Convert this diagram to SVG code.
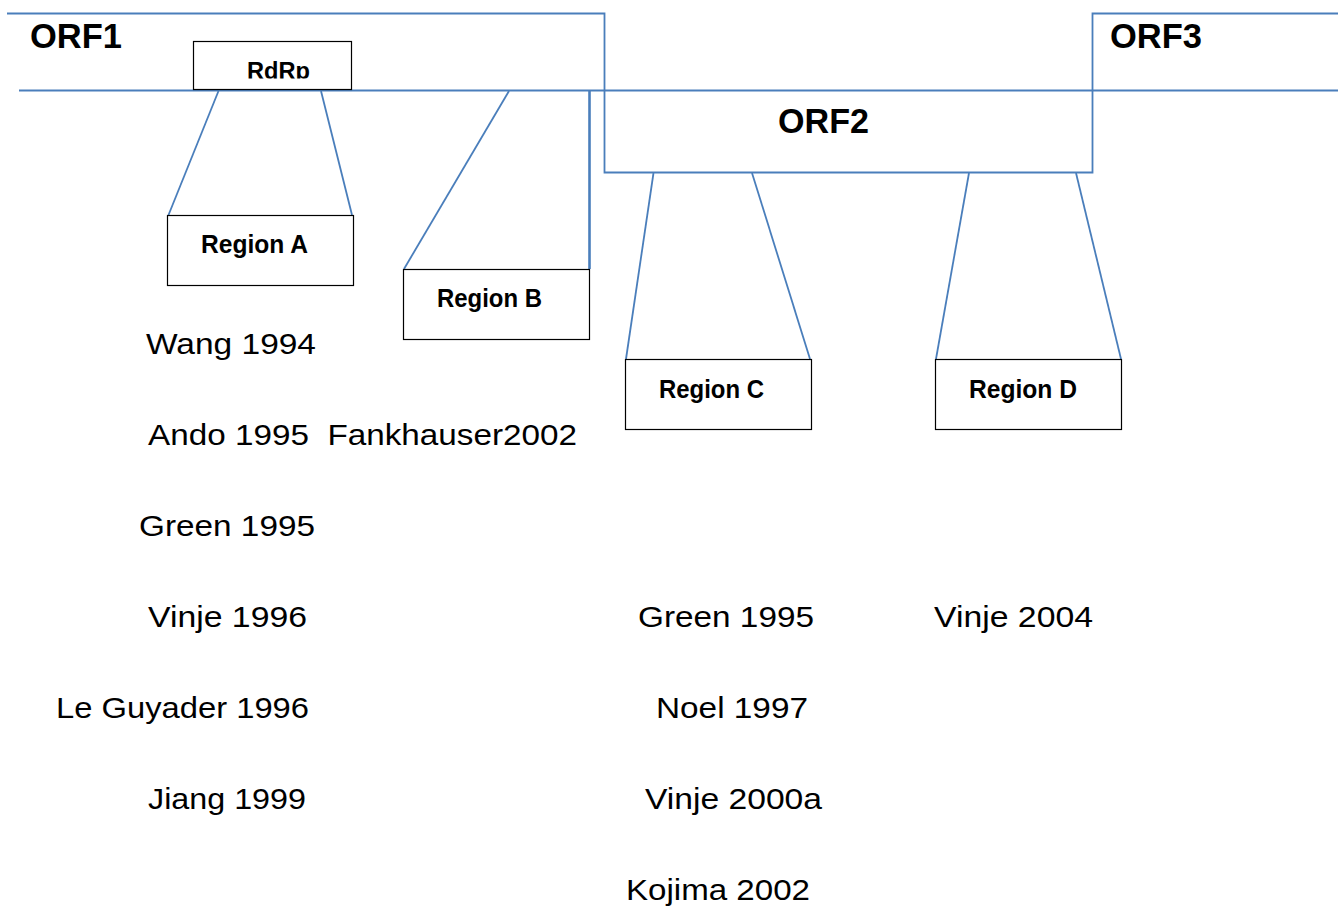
<svg xmlns="http://www.w3.org/2000/svg" width="1338" height="906" viewBox="0 0 1338 906">
<style>
.blue{fill:none;stroke:#4a7ebb;stroke-width:1.8}
.box{fill:#fff;stroke:#000;stroke-width:1.2}
.bt{font-family:"Liberation Sans",Arial,sans-serif;font-weight:bold;fill:#000}
.nt{font-family:"Liberation Sans",Arial,sans-serif;font-size:30px;fill:#000}
</style>
<defs>
<clipPath id="rdrpClip"><rect x="194" y="42" width="156" height="36.5"/></clipPath>
</defs>
<rect width="1338" height="906" fill="#fff"/>
<g id="genome">
<path class="blue" d="M7,13.5 H604.5 V172.5 H1092.5 V13.5 H1338"/>
<line class="blue" x1="19" y1="90.5" x2="1338" y2="90.5"/>
<text class="bt" x="30" y="48" font-size="35" textLength="92" lengthAdjust="spacingAndGlyphs">ORF1</text>
<text class="bt" x="778" y="133" font-size="35" textLength="91" lengthAdjust="spacingAndGlyphs">ORF2</text>
<text class="bt" x="1110" y="48" font-size="35" textLength="92" lengthAdjust="spacingAndGlyphs">ORF3</text>
</g>
<g id="connectors">
<line class="blue" x1="218.5" y1="91" x2="168.5" y2="215"/>
<line class="blue" x1="321" y1="91" x2="352" y2="215"/>
<line class="blue" x1="509" y1="91" x2="404" y2="269"/>
<line class="blue" x1="589.5" y1="91" x2="589.5" y2="269" style="stroke-width:2.6"/>
<line class="blue" x1="653.5" y1="173" x2="626" y2="359"/>
<line class="blue" x1="752" y1="173" x2="810" y2="359"/>
<line class="blue" x1="969" y1="173" x2="936" y2="359"/>
<line class="blue" x1="1076" y1="173" x2="1121" y2="359"/>
</g>
<g id="rdrp">
<rect class="box" x="193.5" y="41.5" width="158" height="48"/>
<text class="bt" x="247" y="79" font-size="24" textLength="63" lengthAdjust="spacingAndGlyphs" clip-path="url(#rdrpClip)">RdRp</text>
</g>
<g id="regionA">
<rect class="box" x="167.5" y="215.5" width="186" height="70"/>
<text class="bt" x="201" y="253" font-size="25" textLength="107" lengthAdjust="spacingAndGlyphs">Region A</text>
</g>
<g id="regionB">
<rect class="box" x="403.5" y="269.5" width="186" height="70"/>
<text class="bt" x="437" y="307" font-size="25" textLength="105" lengthAdjust="spacingAndGlyphs">Region B</text>
</g>
<g id="regionC">
<rect class="box" x="625.5" y="359.5" width="186" height="70"/>
<text class="bt" x="659" y="398" font-size="25" textLength="105" lengthAdjust="spacingAndGlyphs">Region C</text>
</g>
<g id="regionD">
<rect class="box" x="935.5" y="359.5" width="186" height="70"/>
<text class="bt" x="969" y="398" font-size="25" textLength="108" lengthAdjust="spacingAndGlyphs">Region D</text>
</g>
<g id="refsAB">
<text class="nt" x="146" y="354" textLength="170" lengthAdjust="spacingAndGlyphs">Wang 1994</text>
<text class="nt" x="148" y="445" textLength="429" lengthAdjust="spacingAndGlyphs" xml:space="preserve">Ando 1995  Fankhauser2002</text>
<text class="nt" x="139" y="536" textLength="176" lengthAdjust="spacingAndGlyphs">Green 1995</text>
<text class="nt" x="148" y="627" textLength="159" lengthAdjust="spacingAndGlyphs">Vinje 1996</text>
<text class="nt" x="56" y="718" textLength="253" lengthAdjust="spacingAndGlyphs">Le Guyader 1996</text>
<text class="nt" x="148" y="809" textLength="158" lengthAdjust="spacingAndGlyphs">Jiang 1999</text>
</g>
<g id="refsC">
<text class="nt" x="638" y="627" textLength="176" lengthAdjust="spacingAndGlyphs">Green 1995</text>
<text class="nt" x="656" y="718" textLength="152" lengthAdjust="spacingAndGlyphs">Noel 1997</text>
<text class="nt" x="645" y="809" textLength="177" lengthAdjust="spacingAndGlyphs">Vinje 2000a</text>
<text class="nt" x="626" y="900" textLength="184" lengthAdjust="spacingAndGlyphs">Kojima 2002</text>
</g>
<g id="refsD">
<text class="nt" x="934" y="627" textLength="159" lengthAdjust="spacingAndGlyphs">Vinje 2004</text>
</g>
</svg>
